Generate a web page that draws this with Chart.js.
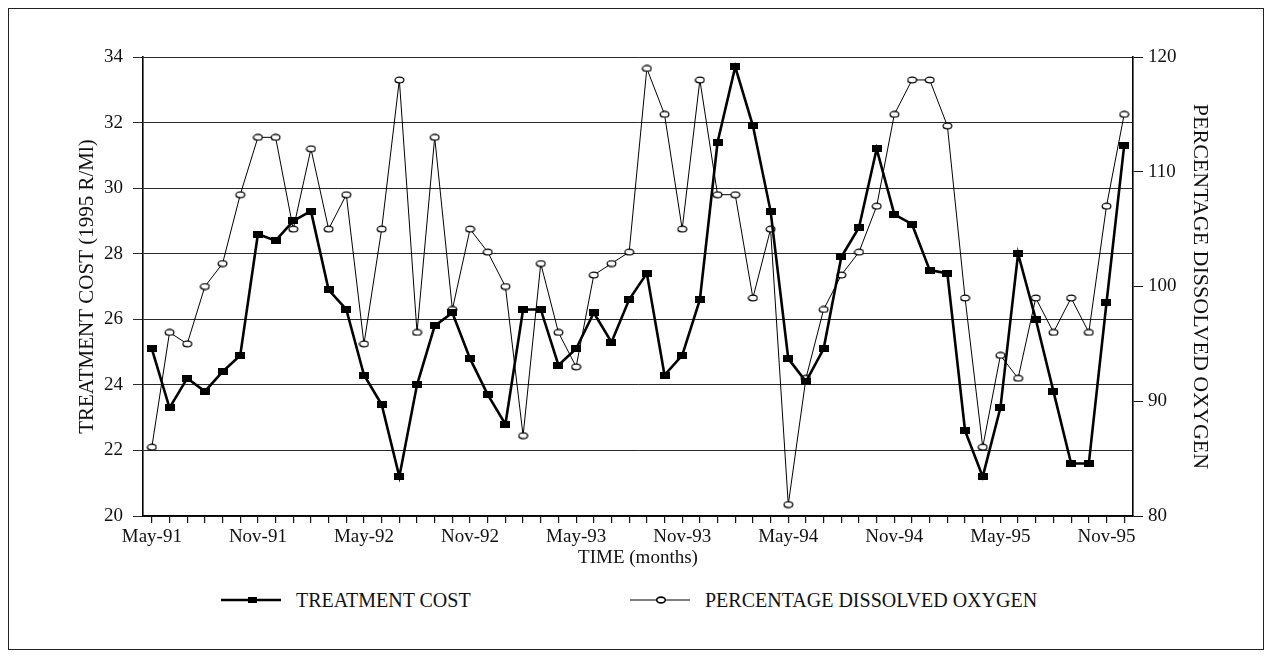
<!DOCTYPE html>
<html>
<head>
<meta charset="utf-8">
<title>Treatment cost and dissolved oxygen</title>
<script src="https://cdn.jsdelivr.net/npm/chart.js@4.4.0/dist/chart.umd.min.js"></script>
<style>
    html, body { margin: 0; padding: 0; background: #fff; }
    body {
        width: 1268px; height: 663px; position: relative; overflow: hidden;
        font-family: 'Liberation Serif', 'Times New Roman', serif; color: #111;
    }
    .frame {
        position: absolute; left: 8px; top: 8px; width: 1256px; height: 642px;
        border: 1.5px solid #222; box-sizing: border-box; pointer-events: none;
    }
    .chart-wrap { position: absolute; left: 0; top: 0; width: 1268px; height: 575px; }
    .legend { position: absolute; left: 0; top: 588px; width: 1268px; height: 24px; }
    .legend-item {
        position: absolute; top: 0; display: flex; align-items: center;
        font-size: 20px; line-height: 24px; white-space: nowrap;
    }
    .legend-item svg { margin-right: 15px; }
</style>
</head>
<body>
<div class="chart-wrap"><canvas id="qualityChart"></canvas></div>
<div class="legend" id="qualityLegend"></div>
<div class="frame"></div>

<script>
// ═══════════════════════════════════════════════════════════════
// Data (monthly, May-91 .. Dec-95)
// ═══════════════════════════════════════════════════════════════

const months = [
    'May-91', 'Jun-91', 'Jul-91', 'Aug-91', 'Sep-91', 'Oct-91', 'Nov-91', 'Dec-91',
    'Jan-92', 'Feb-92', 'Mar-92', 'Apr-92', 'May-92', 'Jun-92', 'Jul-92', 'Aug-92',
    'Sep-92', 'Oct-92', 'Nov-92', 'Dec-92', 'Jan-93', 'Feb-93', 'Mar-93', 'Apr-93',
    'May-93', 'Jun-93', 'Jul-93', 'Aug-93', 'Sep-93', 'Oct-93', 'Nov-93', 'Dec-93',
    'Jan-94', 'Feb-94', 'Mar-94', 'Apr-94', 'May-94', 'Jun-94', 'Jul-94', 'Aug-94',
    'Sep-94', 'Oct-94', 'Nov-94', 'Dec-94', 'Jan-95', 'Feb-95', 'Mar-95', 'Apr-95',
    'May-95', 'Jun-95', 'Jul-95', 'Aug-95', 'Sep-95', 'Oct-95', 'Nov-95', 'Dec-95'
];

const tickLabels = [
    'May-91', 'Nov-91', 'May-92', 'Nov-92', 'May-93',
    'Nov-93', 'May-94', 'Nov-94', 'May-95', 'Nov-95'
];

// 1995 R/Ml
const treatmentCost = [
    25.1, 23.3, 24.2, 23.8, 24.4, 24.9, 28.6, 28.4, 29.0, 29.3,
    26.9, 26.3, 24.3, 23.4, 21.2, 24.0, 25.8, 26.2, 24.8, 23.7,
    22.8, 26.3, 26.3, 24.6, 25.1, 26.2, 25.3, 26.6, 27.4, 24.3,
    24.9, 26.6, 31.4, 33.7, 31.9, 29.3, 24.8, 24.1, 25.1, 27.9,
    28.8, 31.2, 29.2, 28.9, 27.5, 27.4, 22.6, 21.2, 23.3, 28.0,
    26.0, 23.8, 21.6, 21.6, 26.5, 31.3
];

// % saturation
const dissolvedOxygen = [
    86, 96, 95, 100, 102, 108, 113, 113, 105, 112,
    105, 108, 95, 105, 118, 96, 113, 98, 105, 103,
    100, 87, 102, 96, 93, 101, 102, 103, 119, 115,
    105, 118, 108, 108, 99, 105, 81, 92, 98, 101,
    103, 107, 115, 118, 118, 114, 99, 86, 94, 92,
    99, 96, 99, 96, 107, 115
];

// ═══════════════════════════════════════════════════════════════
// Layout
// ═══════════════════════════════════════════════════════════════

const CANVAS_W = 1268;
const CANVAS_H = 575;
const PLOT = { left: 143, right: 1133, top: 57, bottom: 516 };

Chart.defaults.font.family = "'Liberation Serif', 'Times New Roman', serif";
Chart.defaults.color = '#111';
Chart.defaults.animation = false;

// small canvases used as point styles
function squareMarker() {
    const c = document.createElement('canvas');
    c.width = 10; c.height = 7;
    const g = c.getContext('2d');
    g.fillStyle = '#000';
    g.fillRect(0, 0, 10, 7);
    return c;
}

function circleMarker() {
    const c = document.createElement('canvas');
    c.width = 11; c.height = 8;
    const g = c.getContext('2d');
    g.beginPath();
    g.ellipse(5.5, 4, 4.4, 2.9, 0, 0, Math.PI * 2);
    g.fillStyle = '#fff';
    g.fill();
    g.lineWidth = 1.2;
    g.strokeStyle = '#000';
    g.stroke();
    return c;
}

// ═══════════════════════════════════════════════════════════════
// Chart
// ═══════════════════════════════════════════════════════════════

function createQualityChart() {
    const ctx = document.getElementById('qualityChart');

    return new Chart(ctx, {
        type: 'line',
        data: {
            labels: months,
            datasets: [
                {
                    label: 'TREATMENT COST',
                    data: treatmentCost,
                    yAxisID: 'y',
                    borderColor: '#000',
                    borderWidth: 2.6,
                    tension: 0,
                    pointStyle: squareMarker(),
                    pointRadius: 4
                },
                {
                    label: 'PERCENTAGE DISSOLVED OXYGEN',
                    data: dissolvedOxygen,
                    yAxisID: 'y1',
                    borderColor: '#000',
                    borderWidth: 1,
                    tension: 0,
                    pointStyle: circleMarker(),
                    pointRadius: 4
                }
            ]
        },
        options: {
            responsive: true,
            maintainAspectRatio: false,
            layout: { padding: { top: PLOT.top, left: 0, right: 0, bottom: 0 } },
            plugins: {
                legend: { display: false },
                tooltip: { enabled: false }
            },
            scales: {
                x: {
                    type: 'category',
                    offset: true,
                    grid: {
                        drawOnChartArea: false,
                        tickLength: 7,
                        color: '#111',
                        lineWidth: 1.2
                    },
                    border: { color: '#000', width: 1.6 },
                    ticks: {
                        autoSkip: false,
                        maxRotation: 0,
                        minRotation: 0,
                        padding: 3,
                        font: { size: 19 },
                        callback: function(value) {
                            const label = this.getLabelForValue(value);
                            return tickLabels.includes(label) ? label : '';
                        }
                    },
                    title: {
                        display: true,
                        text: 'TIME (months)',
                        font: { size: 19 },
                        padding: { top: 0, bottom: 6 }
                    },
                    afterFit: function(scale) {
                        scale.height = CANVAS_H - PLOT.bottom;
                    }
                },
                y: {
                    position: 'left',
                    min: 20,
                    max: 34,
                    ticks: { stepSize: 2, padding: 10, font: { size: 19 } },
                    grid: { color: '#2a2a2a', lineWidth: 1, tickLength: 10 },
                    border: { color: '#000', width: 1.6 },
                    title: {
                        display: true,
                        text: 'TREATMENT COST (1995 R/Ml)',
                        font: { size: 21 },
                        padding: { top: 75, bottom: 0 }
                    },
                    afterFit: function(scale) {
                        scale.width = PLOT.left;
                    }
                },
                y1: {
                    position: 'right',
                    min: 80,
                    max: 120,
                    ticks: { stepSize: 10, padding: 5, font: { size: 19 } },
                    grid: { drawOnChartArea: false, color: '#111', tickLength: 10 },
                    border: { color: '#000', width: 1.6 },
                    title: {
                        display: true,
                        text: 'PERCENTAGE DISSOLVED OXYGEN',
                        font: { size: 22 },
                        padding: { top: 55, bottom: 0 }
                    },
                    afterFit: function(scale) {
                        scale.width = CANVAS_W - PLOT.right;
                    }
                }
            }
        }
    });
}

// ═══════════════════════════════════════════════════════════════
// Legend (HTML, below the canvas)
// ═══════════════════════════════════════════════════════════════

const LEGEND_LEFT = [221, 630];

function legendSymbol(index) {
    if (index === 0) {
        return '<svg width="60" height="12">' +
            '<line x1="0" y1="6" x2="60" y2="6" stroke="#000" stroke-width="2.4"/>' +
            '<rect x="27" y="3" width="9" height="6" fill="#000"/></svg>';
    }
    return '<svg width="60" height="12">' +
        '<line x1="0" y1="6" x2="60" y2="6" stroke="#000" stroke-width="1"/>' +
        '<ellipse cx="31" cy="6" rx="4.3" ry="2.9" fill="#fff" stroke="#000" stroke-width="1.6"/></svg>';
}

function updateQualityLegend(chart) {
    const legendEl = document.getElementById('qualityLegend');
    legendEl.innerHTML = chart.data.datasets.map((ds, index) => `
        <div class="legend-item" style="left:${LEGEND_LEFT[index]}px">
            ${legendSymbol(index)}<span>${ds.label}</span>
        </div>
    `).join('');
}

const qualityChart = createQualityChart();
updateQualityLegend(qualityChart);
</script>
</body>
</html>
